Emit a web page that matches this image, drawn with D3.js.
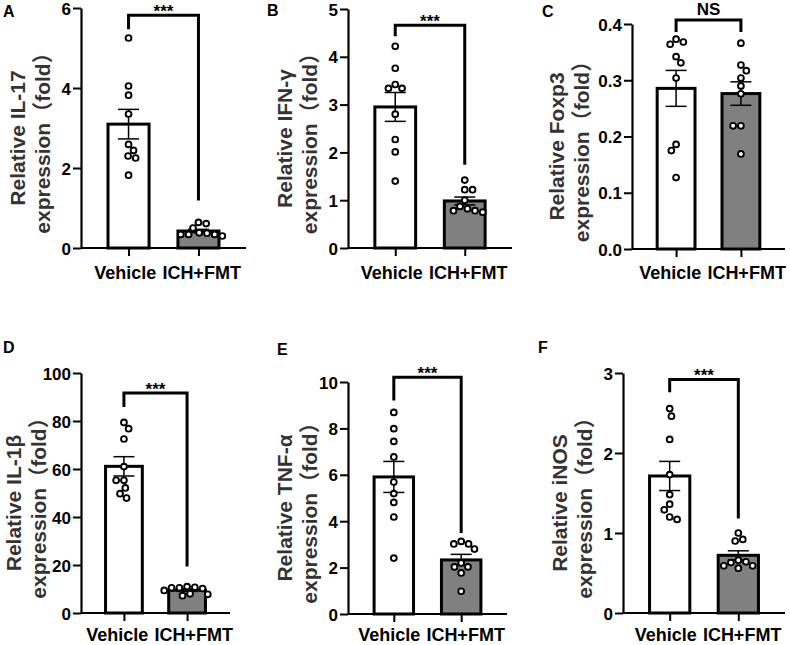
<!DOCTYPE html>
<html>
<head>
<meta charset="utf-8">
<script src="https://cdn.jsdelivr.net/npm/d3@7"></script>
<style>
  html, body { margin: 0; padding: 0; background: #fff; }
  svg { display: block; }
  text { font-family: "Liberation Sans", Arial, "Noto Sans CJK SC", sans-serif; font-weight: bold; }
</style>
</head>
<body>
<script>
// ---------------- DATA ----------------
const panels = ["A", "B", "C", "D", "E", "F"];
const groups = ["Vehicle", "ICH+FMT"];
const yTitles = ["Relative IL-17", "Relative IFN-γ", "Relative Foxp3", "Relative IL-1β", "Relative TNF-α", "Relative iNOS"];
const yTitle2 = "expression（fold）";
const yMax = [6, 5, 0.4, 100, 10, 3];
const yTicks = [
  [0, 2, 4, 6],
  [0, 1, 2, 3, 4, 5],
  [0.0, 0.1, 0.2, 0.3, 0.4],
  [0, 20, 40, 60, 80, 100],
  [0, 2, 4, 6, 8, 10],
  [0, 1, 2, 3]
];
const tickFormats = ["d", "d", ".1f", "d", "d", "d"];
const vehicleValues = [
  [5.25, 4.05, 3.82, 3.35, 2.59, 2.44, 2.30, 2.25, 1.82],
  [4.22, 3.76, 3.42, 3.34, 3.34, 2.80, 2.27, 2.01, 1.40],
  [0.373, 0.368, 0.364, 0.342, 0.331, 0.304, 0.186, 0.175, 0.127],
  [79.4, 76.8, 72.5, 61.0, 55.3, 55.3, 52.1, 49.7, 47.9],
  [8.69, 7.99, 7.44, 6.77, 5.69, 5.19, 4.81, 4.18, 2.41],
  [2.555, 2.46, 2.17, 1.73, 1.48, 1.36, 1.29, 1.20, 1.17]
];
const ichValues = [
  [0.64, 0.61, 0.50, 0.38, 0.37, 0.34, 0.34, 0.34, 0.30],
  [1.42, 1.22, 1.22, 1.00, 0.87, 0.82, 0.78, 0.78, 0.75],
  [0.366, 0.327, 0.317, 0.304, 0.290, 0.276, 0.219, 0.219, 0.169],
  [11.0, 10.7, 10.5, 10.5, 10.2, 9.4, 8.0, 7.8, 7.2],
  [3.13, 3.02, 3.02, 2.80, 2.20, 2.03, 2.03, 1.77, 0.98],
  [1.00, 0.92, 0.90, 0.66, 0.64, 0.63, 0.59, 0.59, 0.56]
];
const sigLabels = ["***", "***", "NS", "***", "***", "***"];
const bracketTop = [5.82, 4.66, 0.407, 91.7, 10.2, 2.92];
const bracketLeftEnd = [5.47, 4.43, 0.386, 85.8, 9.2, 2.76];
const bracketRightEnd = [1.19, 1.74, 0.386, 19.4, 3.49, 1.18];

// ---------------- LAYOUT / STYLE ----------------
const layout = [
  { x0: 81,  x1: 246, yTop: 8,   yBot: 248, lx: 3,   ly: 17,  tOff: 56, labOff: 31 },
  { x0: 348, x1: 512, yTop: 9,   yBot: 248, lx: 267, ly: 16,  tOff: 56, labOff: 31 },
  { x0: 632, x1: 785, yTop: 24,  yBot: 249, lx: 542, ly: 17,  tOff: 68, labOff: 30 },
  { x0: 81,  x1: 230, yTop: 373, yBot: 613, lx: 3,   ly: 353, tOff: 60, labOff: 28 },
  { x0: 348, x1: 507, yTop: 382, yBot: 614, lx: 277, ly: 355, tOff: 56, labOff: 27 },
  { x0: 623, x1: 785, yTop: 373, yBot: 613, lx: 538, ly: 353, tOff: 56, labOff: 28 }
];
const barFills = ["#ffffff", "#808080"];
const dotR = 2.9;
const minDist = 7.8;

const svg = d3.select("body").append("svg").attr("width", 790).attr("height", 645);

function swarm(vals, yScale) {
  const placed = [];
  const order = vals.map((v, k) => k).sort((a, b) => vals[b] - vals[a]);
  const offs = new Array(vals.length).fill(0);
  let flip = 1;
  order.forEach(k => {
    const py = yScale(vals[k]);
    const forb = [];
    placed.forEach(q => {
      const dy = Math.abs(q.y - py);
      if (dy < minDist) {
        const h = Math.sqrt(minDist * minDist - dy * dy);
        forb.push([q.x - h, q.x + h]);
      }
    });
    const cands = [0];
    forb.forEach(f => { cands.push(f[0], f[1]); });
    const ok = c => forb.every(f => c <= f[0] + 1e-6 || c >= f[1] - 1e-6);
    let best = null;
    cands.filter(ok).forEach(c => {
      if (best === null || Math.abs(c) < Math.abs(best) - 1e-6 ||
          (Math.abs(Math.abs(c) - Math.abs(best)) < 1e-6 && Math.sign(c) === flip)) best = c;
    });
    if (best !== 0) flip = -flip;
    offs[k] = best;
    placed.push({ x: best, y: py });
  });
  return offs;
}

panels.forEach((p, i) => {
  const L = layout[i];
  const g = svg.append("g");
  const y = d3.scaleLinear().domain([0, yMax[i]]).range([L.yBot, L.yTop]);
  const x = d3.scalePoint().domain(groups).range([L.x0, L.x1]).padding(0.68);
  const step = x.step();
  const bw = step * 0.63 - 3;
  const series = [vehicleValues[i], ichValues[i]];

  // bars
  series.forEach((vals, j) => {
    const m = d3.mean(vals);
    g.append("rect")
      .attr("x", x(groups[j]) - bw / 2)
      .attr("y", y(m))
      .attr("width", bw)
      .attr("height", y(0) - y(m))
      .attr("fill", barFills[j])
      .attr("stroke", "#000")
      .attr("stroke-width", 3);
  });

  // axes
  const ya = d3.axisLeft(y).tickValues(yTicks[i]).tickFormat(d3.format(tickFormats[i]))
    .tickSize(8).tickSizeOuter(0).tickPadding(2);
  const yg = g.append("g").attr("transform", `translate(${L.x0},0)`).call(ya);
  yg.select(".domain").attr("stroke-width", 2.2);
  yg.selectAll(".tick line").attr("stroke-width", 2);
  yg.selectAll(".tick text").attr("font-size", 17).attr("fill", "#000").attr("dy", "0.36em")
    .style("font-family", '"Liberation Sans", Arial, sans-serif').style("font-weight", "bold");

  const xa = d3.axisBottom(x).tickSize(8).tickSizeOuter(0).tickFormat("");
  const xg = g.append("g").attr("transform", `translate(0,${L.yBot})`).call(xa);
  xg.select(".domain").attr("d", `M${L.x0},0H${L.x1}`).attr("stroke-width", 2.2);
  xg.selectAll(".tick line").attr("stroke-width", 2);

  // x labels, pushed apart if crowded
  const labs = groups.map(gr => g.append("text").text(gr)
    .attr("font-size", 18).attr("y", L.yBot + L.labOff).attr("text-anchor", "middle"));
  const wv = labs[0].node().getComputedTextLength();
  const wi = labs[1].node().getComputedTextLength();
  let c0 = x(groups[0]), c1 = x(groups[1]);
  const gap = (c1 - wi / 2) - (c0 + wv / 2);
  const need = 6;
  if (gap < need) { const d = (need - gap) / 2; c0 -= d; c1 += d; }
  labs[0].attr("x", c0);
  labs[1].attr("x", c1);

  // error bars (mean ± SEM)
  series.forEach((vals, j) => {
    const m = d3.mean(vals);
    const se = d3.deviation(vals) / Math.sqrt(vals.length);
    const cx = x(groups[j]);
    const capW = 10.5;
    const eg = g.append("g").attr("stroke", "#000").attr("stroke-width", 1.5);
    eg.append("line").attr("x1", cx).attr("x2", cx).attr("y1", y(m - se)).attr("y2", y(m + se));
    eg.append("line").attr("x1", cx - capW).attr("x2", cx + capW).attr("y1", y(m + se)).attr("y2", y(m + se));
    eg.append("line").attr("x1", cx - capW).attr("x2", cx + capW).attr("y1", y(m - se)).attr("y2", y(m - se));
  });

  // dots
  series.forEach((vals, j) => {
    const offs = swarm(vals, y);
    const cx = x(groups[j]);
    g.append("g").selectAll("circle").data(vals).join("circle")
      .attr("cx", (d, k) => cx + offs[k])
      .attr("cy", d => y(d))
      .attr("r", dotR)
      .attr("fill", "#fff")
      .attr("stroke", "#000")
      .attr("stroke-width", 1.9);
  });

  // significance bracket
  const xl = x(groups[0]), xr = x(groups[1]);
  g.append("path")
    .attr("d", `M${xl},${y(bracketLeftEnd[i])}V${y(bracketTop[i])}H${xr}V${y(bracketRightEnd[i])}`)
    .attr("fill", "none").attr("stroke", "#000").attr("stroke-width", 3);
  const isNS = sigLabels[i] === "NS";
  g.append("text").text(sigLabels[i])
    .attr("x", (xl + xr) / 2)
    .attr("y", isNS ? y(bracketTop[i]) - 5 : y(bracketTop[i]) + 2)
    .attr("text-anchor", "middle")
    .attr("font-size", 17)
    .attr("fill", "#000");

  // y title
  const tcx = L.x0 - L.tOff;
  const tcy = (L.yTop + L.yBot) / 2 + 10;
  const t = g.append("text")
    .attr("transform", `translate(${tcx},${tcy}) rotate(-90)`)
    .attr("text-anchor", "middle")
    .attr("font-size", 21)
    .attr("fill", "#333");
  t.append("tspan").attr("x", 0).attr("y", 0).text(yTitles[i]);
  t.append("tspan").attr("x", 0).attr("y", 25).text(yTitle2);

  // panel letter
  g.append("text").text(p).attr("x", L.lx).attr("y", L.ly).attr("font-size", 16).attr("fill", "#000");
});
</script>
</body>
</html>
